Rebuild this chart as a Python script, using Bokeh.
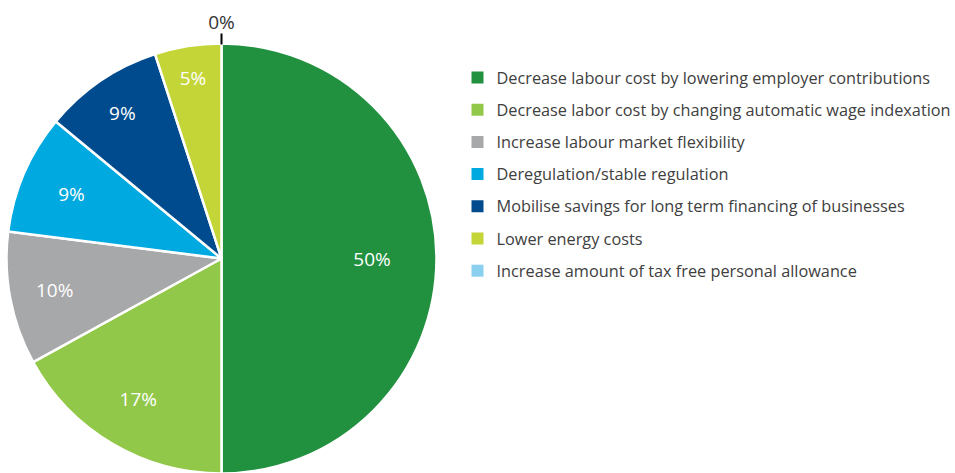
import math
from bokeh.plotting import figure
from bokeh.models import Range1d, ColumnDataSource
from bokeh.core.properties import value
from bokeh.embed import file_html
from bokeh.resources import INLINE

categories = [
    "Decrease labour cost by lowering employer contributions",
    "Decrease labor cost by changing automatic wage indexation",
    "Increase labour market flexibility",
    "Deregulation/stable regulation",
    "Mobilise savings for long term financing of businesses",
    "Lower energy costs",
    "Increase amount of tax free personal allowance",
]
shares = [50, 17, 10, 9, 9, 5, 0]
colors = ["#21913f", "#92c84a", "#a7a8aa", "#00a9e0", "#004b8d", "#c4d637", "#8bd0ef"]

# layout settings (data units == pixels, y pointing up)
W, H = 955, 473
cx, cy, R = 221, H - 258, 215
FONT = "Open Sans"
label_rf = [0.70, 0.76, 0.79, 0.76, 0.82, 0.85, 1.0]

p = figure(width=W, height=H, output_backend="svg", toolbar_location=None,
           x_range=Range1d(0, W), y_range=Range1d(0, H), min_border=0)
p.axis.visible = False
p.grid.visible = False
p.outline_line_color = None
p.background_fill_color = "white"

total = sum(shares)
starts, ends, wcol = [], [], []
lx, ly, labels = [], [], []
cum = 0
for i, v in enumerate(shares):
    a0 = cum / total * 2 * math.pi
    cum += v
    a1 = cum / total * 2 * math.pi
    if v > 0:
        starts.append(math.pi / 2 - a0)
        ends.append(math.pi / 2 - a1)
        wcol.append(colors[i])
        mid = (a0 + a1) / 2
        rf = label_rf[i]
        lx.append(cx + rf * R * math.sin(mid))
        ly.append(cy + rf * R * math.cos(mid))
        labels.append(f"{v}%")

src = ColumnDataSource(dict(start=starts, end=ends, color=wcol))
p.wedge(x=cx, y=cy, radius=R, start_angle="start", end_angle="end",
        direction="clock", fill_color="color", line_color="white",
        line_width=2.5, source=src)

p.text(x=lx, y=ly, text=labels,
       text_color="white", text_font=value(FONT), text_font_size="19px",
       text_align="center", text_baseline="middle")

# zero-valued slices: label above the pie with a tick
zero_labels = [f"{v}%" for v in shares if v == 0]
for lab in zero_labels:
    p.segment(x0=[cx], y0=[cy + R + 10], x1=[cx], y1=[cy + R - 1], line_color="black", line_width=2)
    p.text(x=[cx], y=[cy + R + 22], text=[lab], text_color="#333333",
           text_font=value(FONT), text_font_size="19px",
           text_align="center", text_baseline="middle")

# legend
lg_x, lg_y, lg_dy = 471, 77, 32.2
ys = [H - (lg_y + k * lg_dy) for k in range(len(categories))]
p.rect(x=[lg_x + 6] * len(categories), y=ys, width=12, height=12,
       fill_color=colors, line_color=None)
p.text(x=[lg_x + 25] * len(categories), y=ys, text=categories,
       text_color="#404040", text_font=value(FONT), text_font_size="16.3px",
       text_align="left", text_baseline="middle")

open("out.html", "w").write(file_html(p, INLINE))
